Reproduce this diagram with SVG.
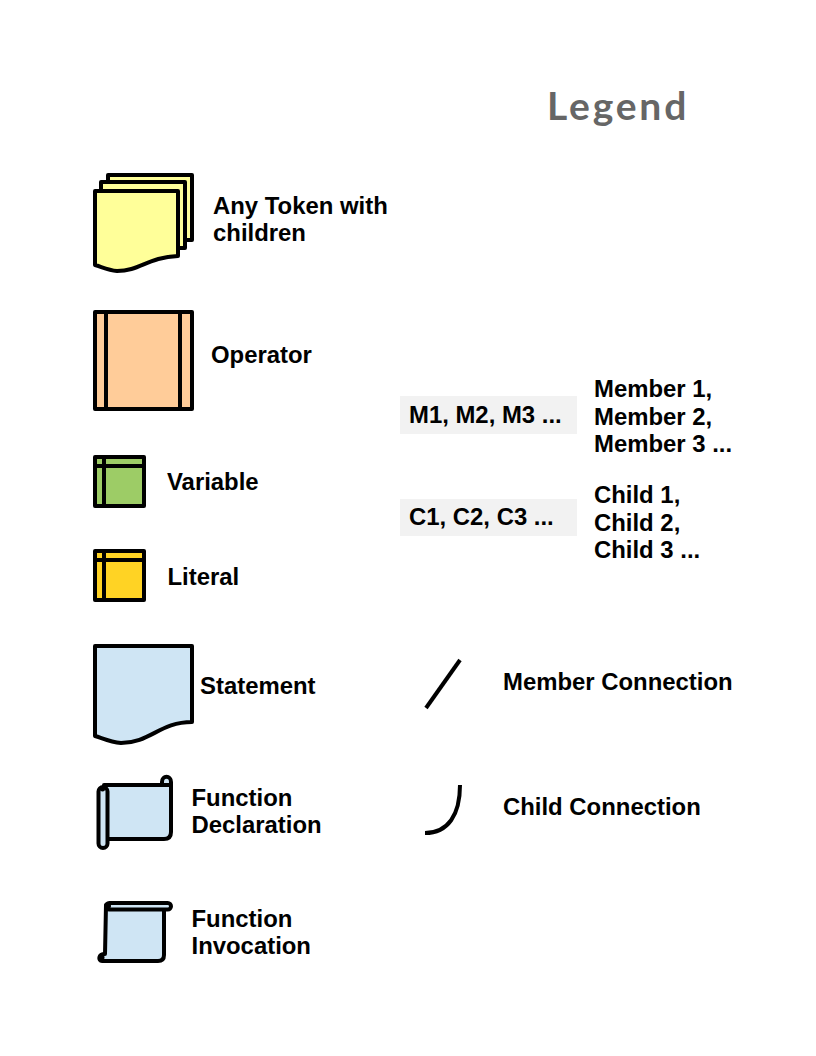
<svg xmlns="http://www.w3.org/2000/svg" width="816" height="1056" viewBox="0 0 816 1056">
<style>
.s{stroke:#000;stroke-width:4;stroke-linejoin:round;stroke-linecap:round}
.y{fill:#ffff99}.b{fill:#cfe5f4}
.t{font-family:"Liberation Sans",Arial,sans-serif;font-size:23.900px;font-weight:700;fill:#000}
.g{fill:#f2f2f2}
</style>
<rect width="816" height="1056" fill="#fff"/>
<text id="title" x="547" y="120" font-family="Lato,'Open Sans',sans-serif" font-size="39px" font-weight="700" fill="#666" letter-spacing="2.800">Legend</text>
<g id="token">
<path class="s y" d="M108 175H192V240H108Z"/>
<path class="s y" d="M101 182H185V248H101Z"/>
<path class="s y" d="M95 191H178V256C148 257 140 271 117 271C108 270 102 267 95 265Z"/>
<text class="t" x="213" y="214">Any Token with</text><text class="t" x="213" y="241">children</text>
</g>
<g id="operator">
<rect class="s" x="95" y="312" width="97" height="97" fill="#ffcc99"/>
<path class="s" fill="none" d="M106 312V409M180 312V409"/>
<text class="t" x="211" y="363">Operator</text>
</g>
<g id="variable">
<rect class="s" x="95" y="457" width="49" height="49" fill="#9dcc66"/>
<path class="s" fill="none" d="M104 457V506M95 466H144"/>
<text class="t" x="167" y="490">Variable</text>
</g>
<g id="literal">
<rect class="s" x="95" y="551" width="49" height="49" fill="#ffd324"/>
<path class="s" fill="none" d="M104 551V600M95 560H144"/>
<text class="t" x="167.500" y="585">Literal</text>
</g>
<g id="statement">
<path class="s b" d="M95 646H192V722C160 722 150 743 121 743C110 742 102 738 95 736Z"/>
<text class="t" x="200" y="694">Statement</text>
</g>
<g id="function-declaration">
<path class="s b" d="M104 785H162V782C162 775 171 775 171 782V832Q171 839 164 839H104Z"/>
<path class="s" fill="none" d="M162 785H171"/>
<rect class="s b" x="98.500" y="787" width="9" height="61" rx="4.500"/>
<circle cx="102.500" cy="789" r="2.500" fill="#000"/>
<text class="t" x="191.500" y="806">Function</text><text class="t" x="191.500" y="833">Declaration</text>
</g>
<g id="function-invocation">
<path class="s b" d="M106 905H164V955Q164 961 158 961H102C98 961 98 954 105 954Z"/>
<circle cx="102" cy="957.500" r="2.500" fill="#000"/>
<rect class="s b" x="106" y="903" width="65" height="6.500" rx="3.250"/>
<circle cx="108.500" cy="906" r="2.500" fill="#000"/>
<text class="t" x="191.500" y="927">Function</text><text class="t" x="191.500" y="954">Invocation</text>
</g>
<g id="abbreviations">
<rect class="g" x="400" y="396" width="177" height="38"/>
<text class="t" x="409" y="423">M1, M2, M3 ...</text>
<text class="t" x="594" y="397">Member 1,</text><text class="t" x="594" y="425">Member 2,</text><text class="t" x="594" y="452">Member 3 ...</text>
<rect class="g" x="400" y="499" width="177" height="37"/>
<text class="t" x="409" y="525">C1, C2, C3 ...</text>
<text class="t" x="594" y="503">Child 1,</text><text class="t" x="594" y="531">Child 2,</text><text class="t" x="594" y="558">Child 3 ...</text>
</g>
<g id="connectors" fill="none" stroke="#000" stroke-width="4">
<path d="M460 660L426 708"/>
<path d="M460 785C460 815 448 833 425 833"/>
</g>
<text class="t" x="503" y="690">Member Connection</text>
<text class="t" x="503" y="815">Child Connection</text>
</svg>
